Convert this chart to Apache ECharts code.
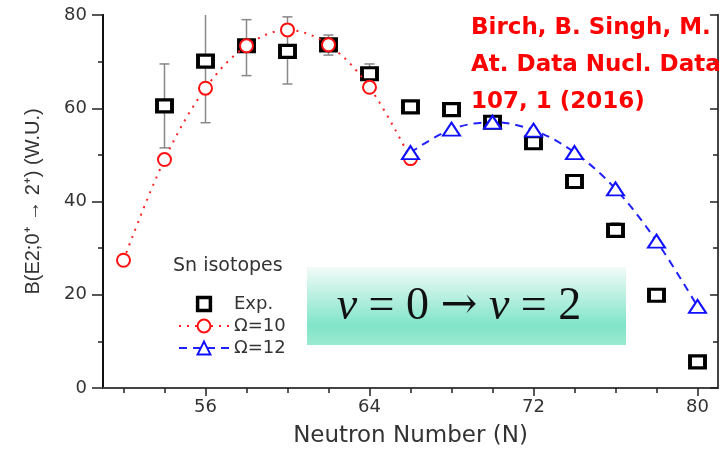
<!DOCTYPE html>
<html>
<head>
<meta charset="utf-8">
<script src="https://cdn.jsdelivr.net/npm/echarts@6/dist/echarts.min.js"></script>
<style>
html,body{margin:0;padding:0;background:#fff;}
#chart{width:725px;height:453px;}
</style>
</head>
<body>
<div id="chart"></div>
<script>
// Sn isotopes B(E2) data
let expN = [54, 56, 58, 60, 62, 64, 66, 68, 70, 72, 74, 76, 78, 80]
let expB = [60.5, 70.1, 73.4, 72.2, 73.6, 67.4, 60.3, 59.7, 57.0, 52.6, 44.3, 33.8, 19.9, 5.6]
let errN = [54, 56, 58, 60, 62, 64, 76]
let errLow = [51.5, 56.9, 67.0, 65.2, 71.4, 66.0, 32.5]
let errHigh = [69.5, 83.0, 79.0, 79.6, 75.7, 69.5, 35.4]
let om10N = [52, 54, 56, 58, 60, 62, 64, 66]
let om10B = [27.4, 49.0, 64.3, 73.4, 76.8, 73.6, 64.5, 49.2]
let om12N = [66, 68, 70, 72, 74, 76, 78, 80]
let om12B = [50.5, 55.5, 57.0, 55.3, 50.5, 42.7, 31.5, 17.5]
let xMajor = [56, 64, 72, 80]
let xMinor = [52, 54, 56, 58, 60, 62, 64, 66, 68, 70, 72, 74, 76, 78, 80]

let myChart = echarts.init(document.getElementById("chart"))

let axisFont = "DejaVu Sans"
function xAx(pos, ticks, len, inside, labels) {
  return {
    type: "value", position: pos, min: 51, max: 81,
    axisLine: {show: true, lineStyle: {color: pos == "bottom" ? "#111" : "#444", width: 2}},
    axisTick: {show: true, customValues: ticks, length: len, inside: inside,
      lineStyle: {color: "#222", width: 1.5}},
    axisLabel: labels ? {show: true, customValues: xMajor, margin: 10,
      fontFamily: axisFont, fontSize: 18, color: "#333"} : {show: false},
    splitLine: {show: false}
  }
}
function yAx(pos, interval, len, inside, labels) {
  return {
    type: "value", position: pos, min: 0, max: 80, interval: interval,
    axisLine: {show: true, lineStyle: {color: pos == "left" ? "#111" : "#444", width: 2}},
    axisTick: {show: true, length: len, inside: inside, lineStyle: {color: "#222", width: 1.5}},
    axisLabel: labels ? {show: true, margin: 16, fontFamily: axisFont, fontSize: 18, color: "#333"} : {show: false},
    splitLine: {show: false}
  }
}

let xMain = xAx("bottom", xMajor, 7, false, true)
xMain.name = "Neutron Number (N)"
xMain.nameLocation = "middle"
xMain.nameGap = 37
xMain.nameTextStyle = {fontFamily: axisFont, fontSize: 23, color: "#333"}

let yMain = yAx("left", 20, 11, false, true)
yMain.name = "B(E2;0⁺ → 2⁺) (W.U.)"
yMain.nameLocation = "middle"
yMain.nameGap = 60
yMain.nameTextStyle = {fontFamily: "Liberation Sans", fontSize: 20, color: "#333"}

myChart.setOption({
  backgroundColor: "#fff",
  animation: false,
  grid: {left: 103, top: 15, right: 7, bottom: 64},
  xAxis: [
    xMain,
    xAx("bottom", xMinor, 4, false, false),
    xAx("top", xMajor, 8, true, false),
    xAx("top", xMinor, 5, true, false)
  ],
  yAxis: [
    yMain,
    yAx("left", 10, 5, false, false),
    yAx("right", 20, 8, true, false),
    yAx("right", 10, 5, true, false)
  ],
  legend: {
    orient: "vertical", left: 173, top: 290,
    itemWidth: 50, itemHeight: 16, itemGap: 4,
    textStyle: {fontFamily: axisFont, fontSize: 18, color: "#333"},
    data: [{name: "Exp.", itemStyle: {borderWidth: 3.5}}, "Ω=10", "Ω=12"]
  },
  series: [
    {
      type: "custom", name: "err", z: 1, clip: true,
      data: errN.map((n, i) => [n, errLow[i], errHigh[i]]),
      renderItem: function (params, api) {
        let lo = api.coord([api.value(0), api.value(1)])
        let hi = api.coord([api.value(0), api.value(2)])
        let w = 5
        let st = {stroke: "#888", lineWidth: 1.5}
        return {type: "group", children: [
          {type: "line", shape: {x1: lo[0], y1: lo[1], x2: hi[0], y2: hi[1]}, style: st},
          {type: "line", shape: {x1: lo[0] - w, y1: lo[1], x2: lo[0] + w, y2: lo[1]}, style: st},
          {type: "line", shape: {x1: hi[0] - w, y1: hi[1], x2: hi[0] + w, y2: hi[1]}, style: st}
        ]}
      }
    },
    {
      type: "line", name: "Exp.", z: 2,
      data: expN.map((n, i) => [n, expB[i]]),
      symbol: "rect", symbolSize: [15, 12],
      lineStyle: {width: 0, opacity: 0},
      itemStyle: {color: "#fff", borderColor: "#000", borderWidth: 3.5}
    },
    {
      type: "line", name: "Ω=10", z: 3, smooth: 0.35,
      data: om10N.map((n, i) => [n, om10B[i]]),
      symbol: "circle", symbolSize: 13,
      lineStyle: {color: "#ff2020", width: 2, type: [2, 6]},
      itemStyle: {color: "#fff", borderColor: "#ff1010", borderWidth: 2}
    },
    {
      type: "line", name: "Ω=12", z: 4, smooth: 0.35,
      data: om12N.map((n, i) => [n, om12B[i]]),
      symbol: "triangle", symbolSize: [17, 13],
      lineStyle: {color: "#2020ff", width: 2, type: [8, 6]},
      itemStyle: {color: "#fff", borderColor: "#1010ff", borderWidth: 2}
    }
  ],
  graphic: [
    {type: "text", left: 173, top: 257, z: 10,
      style: {text: "Sn isotopes", font: "19px 'DejaVu Sans'", fill: "#333"}},
    {type: "rect", left: 307, top: 267, z: 10,
      shape: {width: 319, height: 78},
      style: {fill: new echarts.graphic.LinearGradient(0, 0, 0, 1, [
        {offset: 0, color: "#f2fbf8"},
        {offset: 0.75, color: "#80e4c9"},
        {offset: 1, color: "#9aeacf"}
      ])}},
    {type: "text", x: 459, y: 307, z: 11,
      style: {
        text: "{i|v} = 0 {a|→} {i|v} = 2",
        align: "center", verticalAlign: "middle",
        font: "46px 'Liberation Serif'", fill: "#111",
        rich: {
          i: {fontStyle: "italic", fontFamily: "Liberation Serif", fontSize: 46, color: "#111"},
          a: {fontFamily: "DejaVu Serif", fontSize: 44, color: "#111"}
        }
      }},
    {type: "text", left: 471, top: 10, z: 12,
      style: {text: "Birch, B. Singh, M.\nAt. Data Nucl. Data\n107, 1 (2016)",
        font: "bold 23px 'DejaVu Sans'", fill: "#ff0000", lineHeight: 37}}
  ]
})
</script>
</body>
</html>
